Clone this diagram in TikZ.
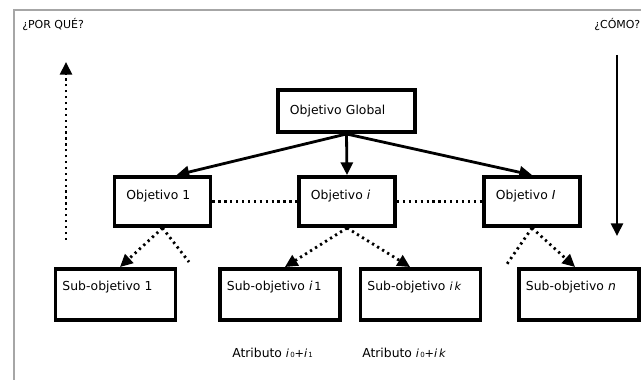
\documentclass[tikz,border=0pt]{standalone}
\usepackage{fontspec}
\setmainfont{DejaVu Sans}
\usetikzlibrary{arrows.meta}

\begin{document}
\begin{tikzpicture}[x=0.025cm, y=-0.025cm, >={Triangle[length=9pt,width=8.5pt]},
  txt/.style={font=\fontsize{8.8}{10}\selectfont},
  obj/.style={txt, draw, line width=2.8pt, minimum width=2.4cm, minimum height=1.225cm,
    text width=1.8cm, inner xsep=0.3cm, inner ysep=0pt, align=left, text height=7pt, text depth=10.5pt},
  sub/.style={txt, draw, line width=2.8pt, minimum width=3cm, minimum height=1.275cm,
    text width=2.65cm, inner xsep=0.175cm, inner ysep=0pt, align=left, text height=7pt, text depth=12.6pt},
  link/.style={line width=2pt, ->},
  dots/.style={line width=2pt, dash pattern=on 1.6pt off 2.6pt},
  lbl/.style={anchor=west, inner sep=0pt}]
  \useasboundingbox (0,0) rectangle (641,380);
  \draw[gray!70, line width=1.4pt] (14,380) -- (14,10) -- (641,10);
  \node[lbl, font=\fontsize{7.8}{9}\selectfont] (why) at (22,24) {¿POR QUÉ?};
  \node[lbl, font=\fontsize{7.8}{9}\selectfont] (how) at (594,24) {¿CÓMO?};

  % objetivos
  \node[obj, minimum width=3.425cm, text width=2.825cm, minimum height=1.05cm, text depth=2pt] (glob) at (346.5,111) {Objetivo Global};
  \node[obj] (obj1) at (162.5,201.5) {Objetivo 1};
  \node[obj] (obji) at (347,201.5) {Objetivo \textit{i}};
  \node[obj] (objI) at (532,201.5) {Objetivo \textit{I}};

  % sub-objetivos
  \node[sub] (sub1) at (115.5,294.5) {Sub-objetivo 1};
  \node[sub] (subi1) at (280,294.5) {Sub-objetivo \textit{i}{\footnotesize\,1}};
  \node[sub] (subik) at (420.5,294.5) {Sub-objetivo {\footnotesize\textit{i\,k}}};
  \node[sub] (subn) at (579,294.5) {Sub-objetivo \textit{n}};

  \node[lbl, txt] (at1) at (232,353) {Atributo {\footnotesize\textit{i}{\tiny\,0}+\textit{i}{\tiny\,1}}};
  \node[lbl, txt] (atk) at (362,353) {Atributo {\footnotesize\textit{i}{\tiny\,0}+\textit{i\,k}}};

  \draw[link] (glob.south) -- ([xshift=10pt]obj1.north);
  \draw[link] (glob.south) -- (obji.north);
  \draw[link] (glob.south) -- (objI.north);

  \draw[dots] (obj1.east) -- (obji.west);
  \draw[dots] (obji.east) -- (objI.west);

  \coordinate (s1) at (189,262);
  \coordinate (sn) at (507,264);
  \draw[dots,->] (obj1.south) -- ([xshift=3.2pt]sub1.north);
  \draw[dots] (obj1.south) -- (s1);
  \draw[dots,->] (obji.south) -- ([xshift=3.5pt]subi1.north);
  \draw[dots,->] (obji.south) -- ([xshift=-7.4pt]subik.north);
  \draw[dots] (objI.south) -- (sn);
  \draw[dots,->] (objI.south) -- ([xshift=-2.8pt]subn.north);

  % por que / como
  \coordinate (why0) at (66,240);
  \coordinate (why1) at (66,62);
  \coordinate (how0) at (617,55);
  \coordinate (how1) at (617,236);
  \draw[dots,->] (why0) -- (why1);
  \draw[link] (how0) -- (how1);
\end{tikzpicture}
\end{document}
